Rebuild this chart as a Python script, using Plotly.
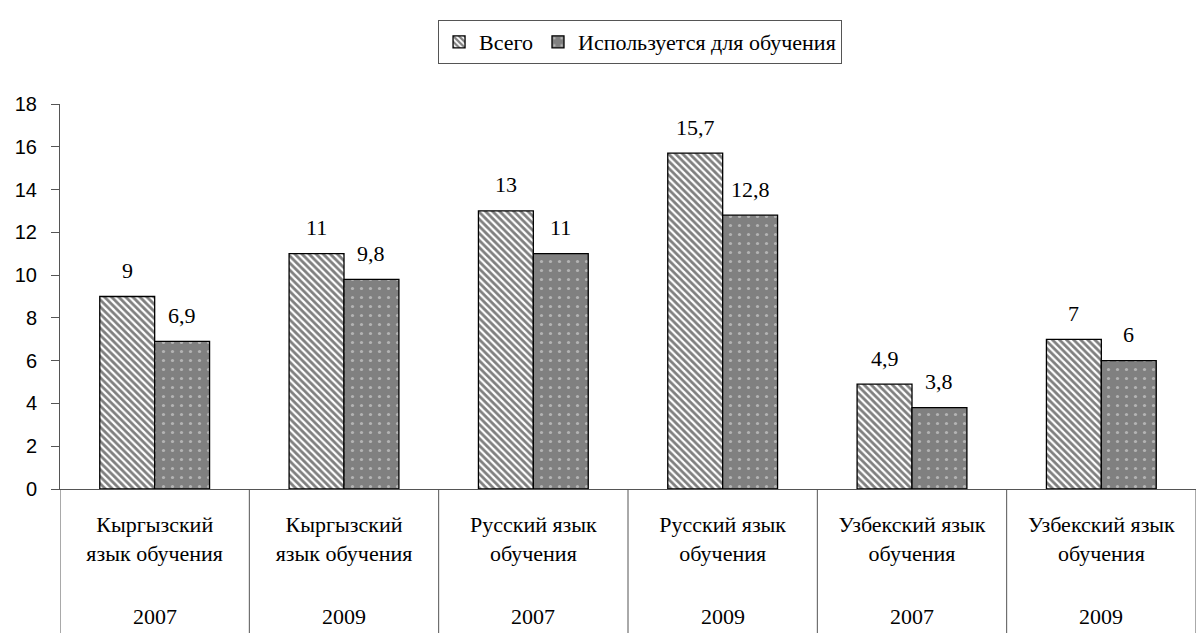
import plotly.graph_objects as go

# Категории, годы и значения
categories = [
    "Кыргызский<br>язык обучения",
    "Кыргызский<br>язык обучения",
    "Русский язык<br>обучения",
    "Русский язык<br>обучения",
    "Узбекский язык<br>обучения",
    "Узбекский язык<br>обучения",
]
years = ["2007", "2009", "2007", "2009", "2007", "2009"]
total = [9, 11, 13, 15.7, 4.9, 7]
used = [6.9, 9.8, 11, 12.8, 3.8, 6]
series_names = ["Всего", "Используется для обучения"]
y_ticks = [0, 2, 4, 6, 8, 10, 12, 14, 16, 18]

SERIF = "'Liberation Serif', 'DejaVu Serif', serif"
SANS = "'Liberation Sans', Arial, sans-serif"
BARGAP = 0.42
AXIS_COLOR = "#555555"
TEXT_SIZE = 22

def fmt(v):
    s = f"{v:g}"
    return s.replace(".", ",")

xs = list(range(len(categories)))

fig = go.Figure()
fig.add_trace(go.Bar(
    x=xs, y=total, name=series_names[0],
    marker=dict(
        color="white",
        line=dict(color="black", width=1.3),
        pattern=dict(shape="\\", fgcolor="black", bgcolor="white", size=5, solidity=0.55),
    ),
))
fig.add_trace(go.Bar(
    x=xs, y=used, name=series_names[1],
    marker=dict(
        color="#808080",
        line=dict(color="black", width=1.3),
        pattern=dict(shape=".", fgcolor="#e8e8e8", bgcolor="#808080", size=9, solidity=0.1),
    ),
))

# Подписи значений над столбцами
half = (1 - BARGAP) / 4
annotations = []
for i in xs:
    for val, off in ((total[i], -half), (used[i], half)):
        annotations.append(dict(
            x=i + off, y=val, xref="x", yref="y", text=fmt(val),
            showarrow=False, yshift=26, yanchor="middle",
            font=dict(family=SERIF, size=TEXT_SIZE, color="black"),
        ))
    # Год под названием категории
    annotations.append(dict(
        x=i, y=-0.33, xref="x", yref="paper", text=years[i],
        showarrow=False, yanchor="middle",
        font=dict(family=SERIF, size=TEXT_SIZE, color="black"),
    ))

# Разделители категорий под осью и продолжение оси Y вниз
shapes = []
for k in range(len(categories) + 1):
    shapes.append(dict(
        type="line", xref="x", yref="paper",
        x0=k - 0.5, x1=k - 0.5, y0=0, y1=-0.4,
        line=dict(color=AXIS_COLOR, width=1),
    ))

fig.update_layout(
    width=1196, height=633,
    margin=dict(l=60, r=0, t=104, b=144),
    paper_bgcolor="white", plot_bgcolor="white",
    barmode="group", bargap=BARGAP, bargroupgap=0,
    showlegend=True,
    legend=dict(
        orientation="h", x=0.5106, xanchor="center", y=1.218, yanchor="top",
        bordercolor=AXIS_COLOR, borderwidth=1,
        font=dict(family=SERIF, size=TEXT_SIZE, color="black"),
        itemwidth=30, traceorder="normal",
    ),
    xaxis=dict(
        range=[-0.5, 5.5], tickvals=xs, ticktext=categories,
        showline=True, linecolor=AXIS_COLOR, linewidth=1,
        ticks="", showgrid=False, zeroline=False,
        tickfont=dict(family=SERIF, size=TEXT_SIZE, color="black"),
        ticklabelstandoff=16,
    ),
    yaxis=dict(
        range=[0, 18], tickvals=y_ticks,
        showline=True, linecolor=AXIS_COLOR, linewidth=1,
        ticks="outside", ticklen=8, tickcolor=AXIS_COLOR,
        showgrid=False, zeroline=False,
        tickfont=dict(family=SANS, size=20, color="black"),
        ticklabelstandoff=10,
    ),
    annotations=annotations,
    shapes=shapes,
)

fig.write_html("out.html")
